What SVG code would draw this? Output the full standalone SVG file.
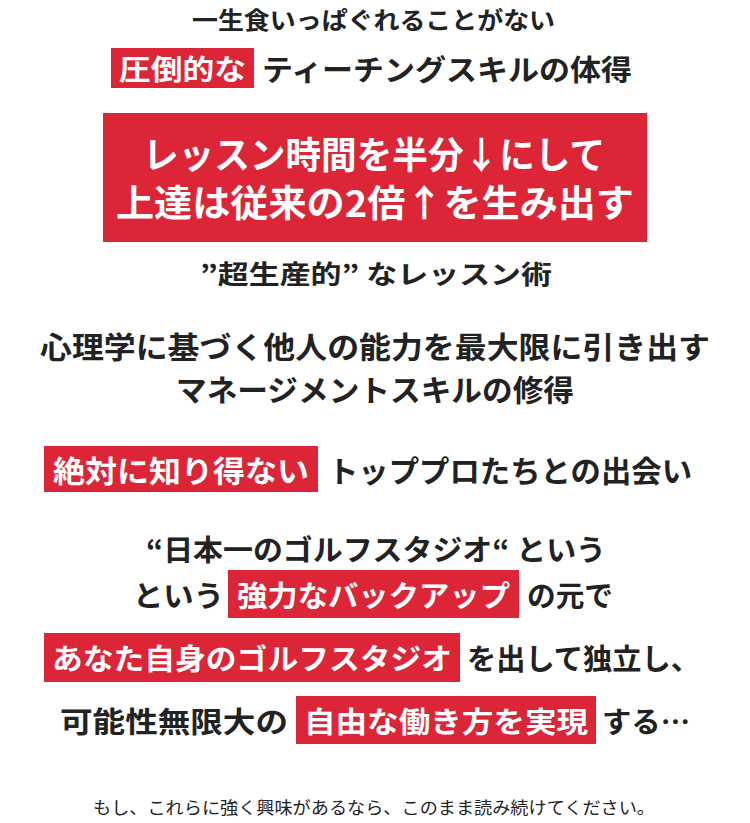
<svg xmlns="http://www.w3.org/2000/svg" width="750" height="823" viewBox="0 0 750 823">
<style>
text{font-family:"Noto Sans CJK JP","Noto Sans",sans-serif;font-weight:bold;fill:#222;dominant-baseline:central}
.w{fill:#fff}
.r{fill:#dc2537}
</style>
<rect width="750" height="823" fill="#fff"/>
<g id="l1"><text x="192" y="18" font-size="24" textLength="363" lengthAdjust="spacingAndGlyphs">一生食いっぱぐれることがない</text></g>
<g id="l2"><rect class="r" x="111" y="48" width="143" height="40"/><text class="w" x="119" y="68" font-size="28" textLength="127" lengthAdjust="spacingAndGlyphs">圧倒的な</text>
<text x="262" y="68" font-size="29" textLength="370" lengthAdjust="spacingAndGlyphs">ティーチングスキルの体得</text></g>
<g id="big"><rect class="r" x="103" y="113" width="544" height="129"/>
<text class="w" x="143" y="153" font-size="37" textLength="462" lengthAdjust="spacingAndGlyphs">レッスン時間を半分↓にして</text>
<text class="w" x="116" y="201" font-size="37" textLength="518" lengthAdjust="spacingAndGlyphs">上達は従来の2倍↑を生み出す</text></g>
<g id="l3"><text x="200" y="272" font-size="26" textLength="352" lengthAdjust="spacingAndGlyphs">”超生産的” なレッスン術</text></g>
<g id="l4"><text x="40" y="345" font-size="30" textLength="670" lengthAdjust="spacingAndGlyphs">心理学に基づく他人の能力を最大限に引き出す</text>
<text x="176" y="388" font-size="30" textLength="398" lengthAdjust="spacingAndGlyphs">マネージメントスキルの修得</text></g>
<g id="l5"><rect class="r" x="44" y="446" width="274" height="46"/><text class="w" x="53" y="469" font-size="30" textLength="256" lengthAdjust="spacingAndGlyphs">絶対に知り得ない</text>
<text x="328" y="469" font-size="30" textLength="364" lengthAdjust="spacingAndGlyphs">トッププロたちとの出会い</text></g>
<g id="l6"><text x="146" y="548" font-size="29" textLength="460" lengthAdjust="spacingAndGlyphs">“日本一のゴルフスタジオ“ という</text>
<text x="133" y="594" font-size="29" textLength="91" lengthAdjust="spacingAndGlyphs">という</text>
<rect class="r" x="228" y="570" width="291" height="48"/><text class="w" x="237" y="594" font-size="29" textLength="273" lengthAdjust="spacingAndGlyphs">強力なバックアップ</text>
<text x="527" y="594" font-size="29" textLength="86" lengthAdjust="spacingAndGlyphs">の元で</text></g>
<g id="l7"><rect class="r" x="44" y="633" width="416" height="49"/><text class="w" x="52" y="657" font-size="29" textLength="400" lengthAdjust="spacingAndGlyphs">あなた自身のゴルフスタジオ</text>
<text x="467" y="657" font-size="29" textLength="233" lengthAdjust="spacingAndGlyphs">を出して独立し、</text></g>
<g id="l8"><text x="60" y="720" font-size="29" textLength="228" lengthAdjust="spacingAndGlyphs">可能性無限大の</text>
<rect class="r" x="296" y="696" width="300" height="48"/><text class="w" x="304" y="720" font-size="29" textLength="284" lengthAdjust="spacingAndGlyphs">自由な働き方を実現</text>
<text x="602" y="720" font-size="29" textLength="88" lengthAdjust="spacingAndGlyphs">する…</text></g>
<g id="foot"><text x="93" y="806" font-size="17" font-weight="normal" textLength="562" lengthAdjust="spacingAndGlyphs" style="font-weight:normal">もし、これらに強く興味があるなら、このまま読み続けてください。</text></g>
</svg>
